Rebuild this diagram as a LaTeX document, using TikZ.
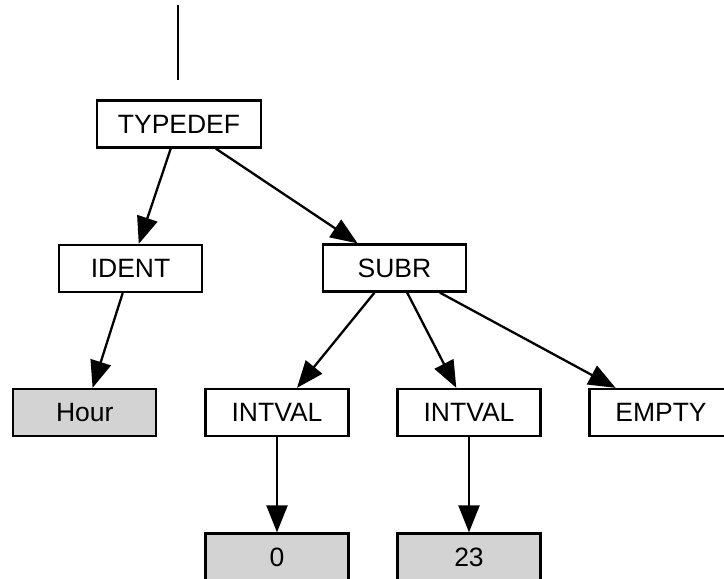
\documentclass[tikz,border=0pt]{standalone}
\usepackage{fontspec}
\setmainfont{Liberation Sans}
\usetikzlibrary{arrows.meta}
\definecolor{boxgray}{HTML}{D3D3D3}
\begin{document}
\begin{tikzpicture}[x=1pt,y=-1pt,
  treebox/.style={draw=black,line width=2.3pt,rectangle,minimum width=143pt,minimum height=47pt,inner sep=0pt,font=\fontsize{26.5}{30}\selectfont},
  leafbox/.style={treebox,fill=boxgray},
  edge/.style={line width=2.3pt,-{Triangle[length=27pt,width=21pt]}}]
\useasboundingbox (0,0) rectangle (724,579);
\coordinate (topA) at (178,5);
\coordinate (topB) at (178,80);
\draw[line width=2.3pt] (topA) -- (topB);
\node[treebox,minimum width=164pt] (typedef) at (179,124) {TYPEDEF};
\node[treebox] (ident) at (130.5,268.5) {IDENT};
\node[treebox] (subr) at (394.5,268) {SUBR};
\node[leafbox] (hour) at (84.75,412.5) {Hour};
\node[treebox] (intvalA) at (277,412.5) {INTVAL};
\node[treebox] (intvalB) at (469,412.5) {INTVAL};
\node[treebox] (empty) at (661,412.5) {EMPTY};
\node[leafbox] (zero) at (277,557) {0};
\node[leafbox] (tt) at (469,557) {23};
\draw[edge] (typedef) -- (ident);
\draw[edge] (typedef) -- (subr);
\draw[edge] (ident) -- (hour);
\draw[edge] (subr) -- (intvalA);
\draw[edge] (subr) -- (intvalB);
\draw[edge] (subr) -- (empty);
\draw[edge] (intvalA) -- (zero);
\draw[edge] (intvalB) -- (tt);
\end{tikzpicture}
\end{document}
